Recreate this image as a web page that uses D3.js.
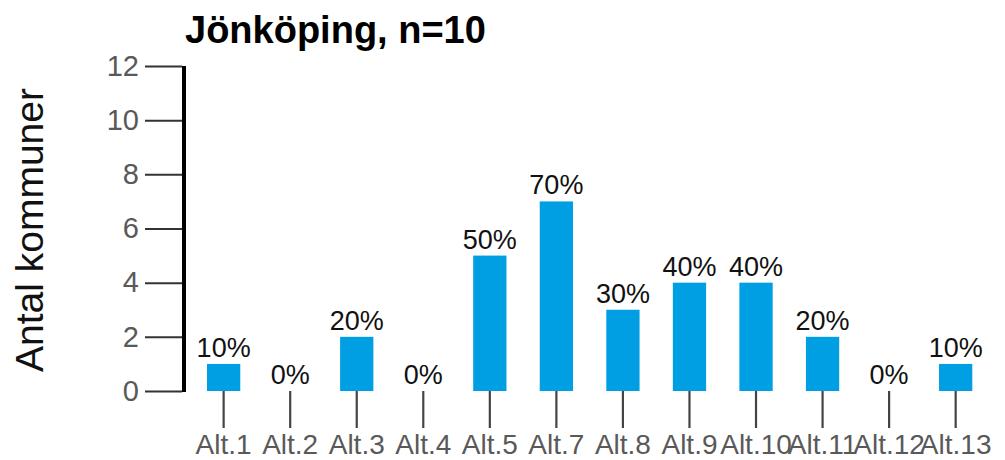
<!DOCTYPE html>
<html>
<head>
<meta charset="utf-8">
<script src="https://cdn.jsdelivr.net/npm/d3@7"></script>
<style>
  html, body { margin: 0; padding: 0; background: #ffffff; }
  svg { display: block; font-family: "Liberation Sans", Arial, sans-serif; }
</style>
</head>
<body>
<svg id="chart" width="1005" height="460"></svg>
<script>
// Antal kommuner per alternativ, Jönköping (n=10)
const categories = ["Alt.1", "Alt.2", "Alt.3", "Alt.4", "Alt.5", "Alt.7", "Alt.8", "Alt.9", "Alt.10", "Alt.11", "Alt.12", "Alt.13"];
const counts = [1, 0, 2, 0, 5, 7, 3, 4, 4, 2, 0, 1];
const percentLabels = ["10%", "0%", "20%", "0%", "50%", "70%", "30%", "40%", "40%", "20%", "0%", "10%"];
const yTicks = [0, 2, 4, 6, 8, 10, 12];
const title = "Jönköping, n=10";
const yTitle = "Antal kommuner";

const svg = d3.select("#chart");

const y = d3.scaleLinear().domain([0, 12]).range([391, 66]);
const x = d3.scaleBand().domain(categories).range([207, 972.3]).paddingInner(0.5).paddingOuter(0);

// Title
svg.append("text")
  .attr("x", 185).attr("y", 43)
  .attr("font-size", 38).attr("font-weight", "bold").attr("fill", "#000")
  .text(title);

// Y axis title
svg.append("text")
  .attr("transform", "translate(43,230) rotate(-90)")
  .attr("text-anchor", "middle")
  .attr("font-size", 39).attr("fill", "#111")
  .text(yTitle);

// Y axis ticks and labels
const yAxis = svg.append("g")
  .attr("transform", "translate(182,0)")
  .call(d3.axisLeft(y).tickValues(yTicks).tickSize(37).tickPadding(6));
yAxis.select(".domain").remove();
yAxis.selectAll(".tick line").attr("stroke", "#333").attr("stroke-width", 2);
yAxis.selectAll(".tick text")
  .attr("font-size", 29).attr("fill", "#595959")
  .attr("font-family", "Liberation Sans, Arial, sans-serif");

// Heavy vertical axis line
svg.append("line")
  .attr("x1", 184).attr("x2", 184)
  .attr("y1", y(12)).attr("y2", y(0) + 1)
  .attr("stroke", "#000").attr("stroke-width", 4);

// X axis ticks and labels
const xAxis = svg.append("g")
  .attr("transform", `translate(0,${y(0)})`)
  .call(d3.axisBottom(x).tickSize(37).tickPadding(6));
xAxis.select(".domain").remove();
xAxis.selectAll(".tick line").attr("stroke", "#444").attr("stroke-width", 2.2);
xAxis.selectAll(".tick text")
  .attr("font-size", 28).attr("fill", "#595959")
  .attr("font-family", "Liberation Sans, Arial, sans-serif");

// Bars
svg.append("g").selectAll("rect")
  .data(categories)
  .join("rect")
  .attr("x", d => x(d))
  .attr("width", x.bandwidth())
  .attr("y", (d, i) => y(counts[i]))
  .attr("height", (d, i) => y(0) - y(counts[i]))
  .attr("fill", "#009FE3");

// Value labels
svg.append("g").selectAll("text")
  .data(categories)
  .join("text")
  .attr("x", d => x(d) + x.bandwidth() / 2)
  .attr("y", (d, i) => y(counts[i]) - 7)
  .attr("text-anchor", "middle")
  .attr("font-size", 27).attr("fill", "#111")
  .text((d, i) => percentLabels[i]);
</script>
</body>
</html>
